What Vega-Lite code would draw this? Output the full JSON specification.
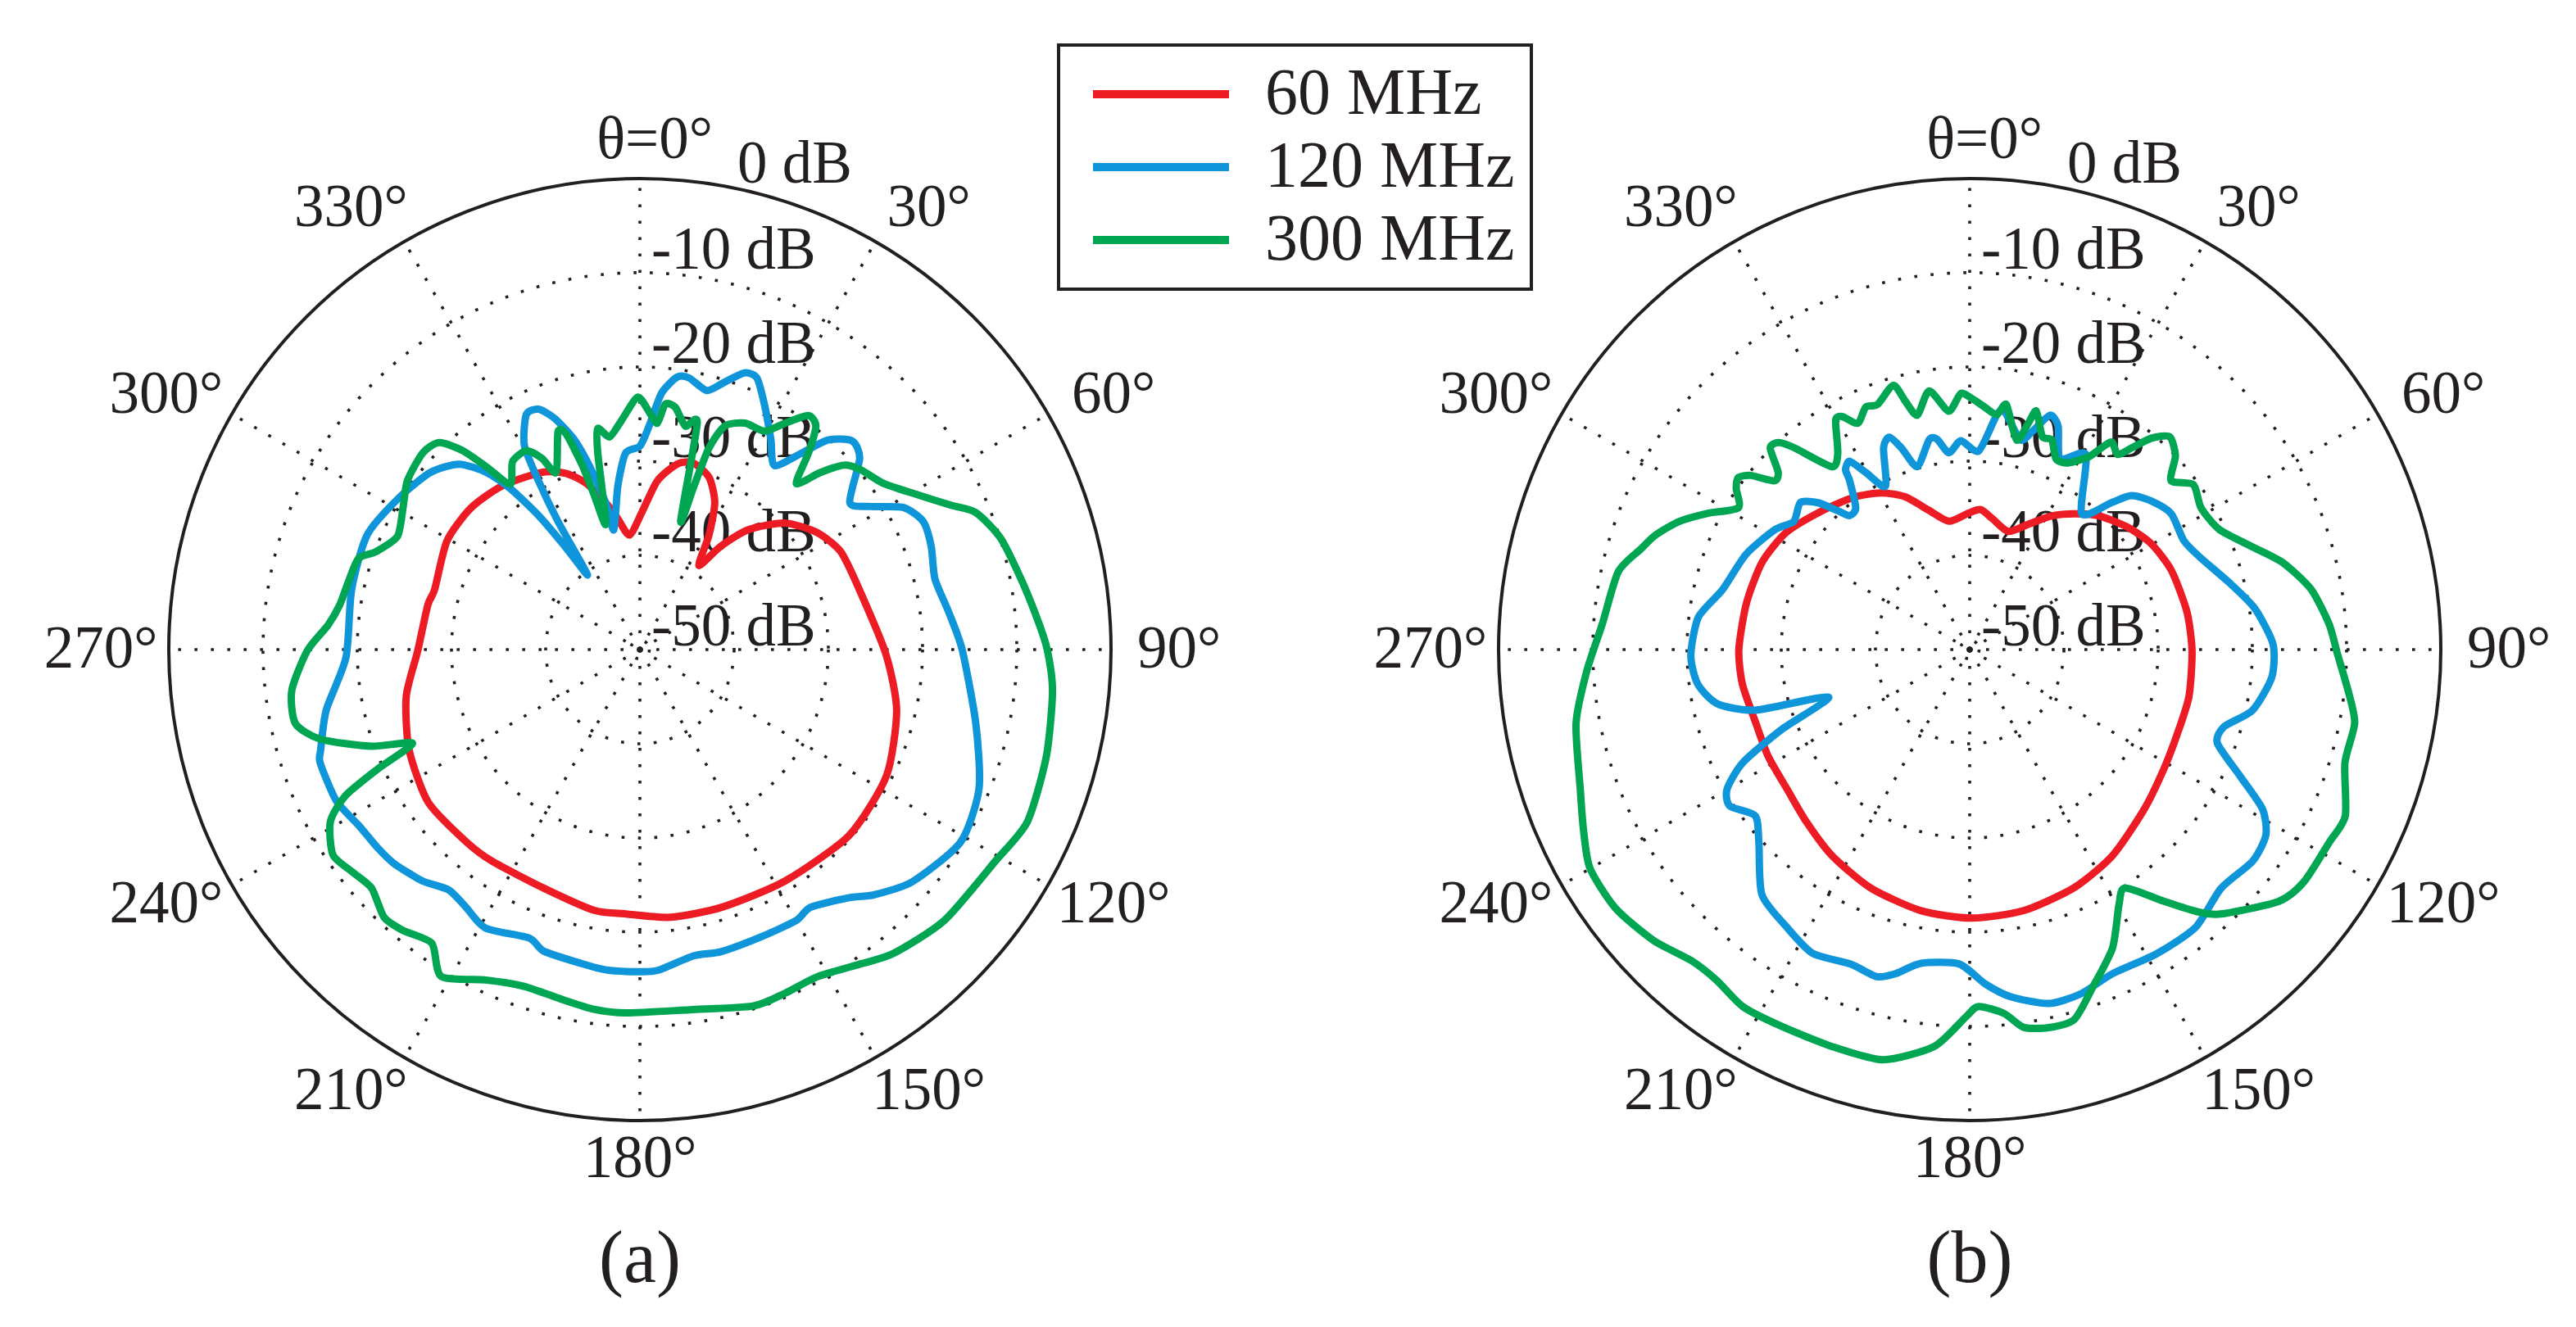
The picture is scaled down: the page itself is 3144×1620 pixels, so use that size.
{
  "$schema": "https://vega.github.io/schema/vega-lite/v6.json",
  "description": "Radiation patterns at 60, 120 and 300 MHz, panels (a) and (b)",
  "width": 3144,
  "height": 1620,
  "autosize": {"type": "none"},
  "padding": 0,
  "background": "white",
  "config": {
    "view": {"stroke": null},
    "font": "Liberation Serif",
    "legend": {
      "strokeColor": "#231F20",
      "strokeWidth": 4,
      "padding": 20,
      "symbolType": "M-0.9,0H7.4",
      "symbolSize": 1600,
      "symbolStrokeWidth": 10,
      "labelFont": "Liberation Serif",
      "labelFontSize": 80,
      "labelColor": "#231F20",
      "labelOffset": 152,
      "labelLimit": 0,
      "rowPadding": 9
    }
  },
  "datasets": {
    "rings": [
      {"panel": "a", "gain": 0}, {"panel": "a", "gain": -10}, {"panel": "a", "gain": -20},
      {"panel": "a", "gain": -30}, {"panel": "a", "gain": -40}, {"panel": "a", "gain": -49},
      {"panel": "a", "gain": -50},
      {"panel": "b", "gain": 0}, {"panel": "b", "gain": -10}, {"panel": "b", "gain": -20},
      {"panel": "b", "gain": -30}, {"panel": "b", "gain": -40}, {"panel": "b", "gain": -49},
      {"panel": "b", "gain": -50}
    ],
    "spokes": [
      {"panel": "a", "angle": 0, "label": "θ=0°"}, {"panel": "a", "angle": 30, "label": "30°"},
      {"panel": "a", "angle": 60, "label": "60°"}, {"panel": "a", "angle": 90, "label": "90°"},
      {"panel": "a", "angle": 120, "label": "120°"}, {"panel": "a", "angle": 150, "label": "150°"},
      {"panel": "a", "angle": 180, "label": "180°"}, {"panel": "a", "angle": 210, "label": "210°"},
      {"panel": "a", "angle": 240, "label": "240°"}, {"panel": "a", "angle": 270, "label": "270°"},
      {"panel": "a", "angle": 300, "label": "300°"}, {"panel": "a", "angle": 330, "label": "330°"},
      {"panel": "b", "angle": 0, "label": "θ=0°"}, {"panel": "b", "angle": 30, "label": "30°"},
      {"panel": "b", "angle": 60, "label": "60°"}, {"panel": "b", "angle": 90, "label": "90°"},
      {"panel": "b", "angle": 120, "label": "120°"}, {"panel": "b", "angle": 150, "label": "150°"},
      {"panel": "b", "angle": 180, "label": "180°"}, {"panel": "b", "angle": 210, "label": "210°"},
      {"panel": "b", "angle": 240, "label": "240°"}, {"panel": "b", "angle": 270, "label": "270°"},
      {"panel": "b", "angle": 300, "label": "300°"}, {"panel": "b", "angle": 330, "label": "330°"}
    ],
    "captions": [
      {"panel": "a", "caption": "(a)"},
      {"panel": "b", "caption": "(b)"}
    ],
    "patterns": [
      {"panel": "a", "freq": "60 MHz", "angle": 0.7, "gain": -35.5},
      {"panel": "a", "freq": "60 MHz", "angle": 5.9, "gain": -32},
      {"panel": "a", "freq": "60 MHz", "angle": 11.4, "gain": -29.9},
      {"panel": "a", "freq": "60 MHz", "angle": 15.9, "gain": -29.4},
      {"panel": "a", "freq": "60 MHz", "angle": 21.9, "gain": -30.3},
      {"panel": "a", "freq": "60 MHz", "angle": 27, "gain": -32.5},
      {"panel": "a", "freq": "60 MHz", "angle": 31.1, "gain": -35.8},
      {"panel": "a", "freq": "60 MHz", "angle": 35, "gain": -39.1},
      {"panel": "a", "freq": "60 MHz", "angle": 38, "gain": -36.1},
      {"panel": "a", "freq": "60 MHz", "angle": 42.2, "gain": -32.8},
      {"panel": "a", "freq": "60 MHz", "angle": 48.8, "gain": -29.6},
      {"panel": "a", "freq": "60 MHz", "angle": 56.4, "gain": -27.5},
      {"panel": "a", "freq": "60 MHz", "angle": 63.9, "gain": -26.3},
      {"panel": "a", "freq": "60 MHz", "angle": 74, "gain": -25.9},
      {"panel": "a", "freq": "60 MHz", "angle": 91, "gain": -23.9},
      {"panel": "a", "freq": "60 MHz", "angle": 103.3, "gain": -22},
      {"panel": "a", "freq": "60 MHz", "angle": 117.1, "gain": -20.6},
      {"panel": "a", "freq": "60 MHz", "angle": 131.6, "gain": -20.3},
      {"panel": "a", "freq": "60 MHz", "angle": 147.9, "gain": -21},
      {"panel": "a", "freq": "60 MHz", "angle": 162.4, "gain": -21.3},
      {"panel": "a", "freq": "60 MHz", "angle": 173.5, "gain": -21.4},
      {"panel": "a", "freq": "60 MHz", "angle": 183, "gain": -21.9},
      {"panel": "a", "freq": "60 MHz", "angle": 190, "gain": -21.9},
      {"panel": "a", "freq": "60 MHz", "angle": 202.1, "gain": -22.7},
      {"panel": "a", "freq": "60 MHz", "angle": 214.9, "gain": -22.6},
      {"panel": "a", "freq": "60 MHz", "angle": 222, "gain": -22.5},
      {"panel": "a", "freq": "60 MHz", "angle": 234.2, "gain": -22.3},
      {"panel": "a", "freq": "60 MHz", "angle": 246.6, "gain": -23.3},
      {"panel": "a", "freq": "60 MHz", "angle": 258.6, "gain": -24.7},
      {"panel": "a", "freq": "60 MHz", "angle": 269.5, "gain": -26.4},
      {"panel": "a", "freq": "60 MHz", "angle": 281.9, "gain": -27},
      {"panel": "a", "freq": "60 MHz", "angle": 286.3, "gain": -27.3},
      {"panel": "a", "freq": "60 MHz", "angle": 299.4, "gain": -26.5},
      {"panel": "a", "freq": "60 MHz", "angle": 310, "gain": -26.6},
      {"panel": "a", "freq": "60 MHz", "angle": 320, "gain": -27.3},
      {"panel": "a", "freq": "60 MHz", "angle": 331.1, "gain": -28.5},
      {"panel": "a", "freq": "60 MHz", "angle": 337.2, "gain": -29.7},
      {"panel": "a", "freq": "60 MHz", "angle": 342, "gain": -31.4},
      {"panel": "a", "freq": "60 MHz", "angle": 346.9, "gain": -34},
      {"panel": "a", "freq": "60 MHz", "angle": 350.4, "gain": -35.9},
      {"panel": "a", "freq": "60 MHz", "angle": 354.8, "gain": -37.8},

      {"panel": "a", "freq": "120 MHz", "angle": 0, "gain": -28.4},
      {"panel": "a", "freq": "120 MHz", "angle": 2.4, "gain": -26.2},
      {"panel": "a", "freq": "120 MHz", "angle": 4.8, "gain": -22.7},
      {"panel": "a", "freq": "120 MHz", "angle": 7.8, "gain": -20.8},
      {"panel": "a", "freq": "120 MHz", "angle": 10.3, "gain": -20.7},
      {"panel": "a", "freq": "120 MHz", "angle": 14.5, "gain": -21.6},
      {"panel": "a", "freq": "120 MHz", "angle": 17.6, "gain": -20.2},
      {"panel": "a", "freq": "120 MHz", "angle": 20.7, "gain": -18.6},
      {"panel": "a", "freq": "120 MHz", "angle": 23.3, "gain": -18.6},
      {"panel": "a", "freq": "120 MHz", "angle": 26.9, "gain": -20.8},
      {"panel": "a", "freq": "120 MHz", "angle": 31.9, "gain": -23.7},
      {"panel": "a", "freq": "120 MHz", "angle": 36.2, "gain": -25.8},
      {"panel": "a", "freq": "120 MHz", "angle": 39.7, "gain": -22.7},
      {"panel": "a", "freq": "120 MHz", "angle": 41.9, "gain": -20.1},
      {"panel": "a", "freq": "120 MHz", "angle": 45.5, "gain": -18.4},
      {"panel": "a", "freq": "120 MHz", "angle": 49, "gain": -19.1},
      {"panel": "a", "freq": "120 MHz", "angle": 55, "gain": -22.8},
      {"panel": "a", "freq": "120 MHz", "angle": 58.3, "gain": -21.1},
      {"panel": "a", "freq": "120 MHz", "angle": 61.7, "gain": -18.2},
      {"panel": "a", "freq": "120 MHz", "angle": 65.7, "gain": -17},
      {"panel": "a", "freq": "120 MHz", "angle": 70.5, "gain": -17.2},
      {"panel": "a", "freq": "120 MHz", "angle": 76.5, "gain": -17.8},
      {"panel": "a", "freq": "120 MHz", "angle": 83, "gain": -17},
      {"panel": "a", "freq": "120 MHz", "angle": 90, "gain": -15.8},
      {"panel": "a", "freq": "120 MHz", "angle": 102.4, "gain": -13.5},
      {"panel": "a", "freq": "120 MHz", "angle": 112.3, "gain": -11.1},
      {"panel": "a", "freq": "120 MHz", "angle": 121, "gain": -10.3},
      {"panel": "a", "freq": "120 MHz", "angle": 130.4, "gain": -12},
      {"panel": "a", "freq": "120 MHz", "angle": 136.3, "gain": -14},
      {"panel": "a", "freq": "120 MHz", "angle": 140, "gain": -15.6},
      {"panel": "a", "freq": "120 MHz", "angle": 146.5, "gain": -17.2},
      {"panel": "a", "freq": "120 MHz", "angle": 150, "gain": -16.8},
      {"panel": "a", "freq": "120 MHz", "angle": 157.4, "gain": -16.9},
      {"panel": "a", "freq": "120 MHz", "angle": 165, "gain": -16.8},
      {"panel": "a", "freq": "120 MHz", "angle": 170, "gain": -17},
      {"panel": "a", "freq": "120 MHz", "angle": 176.8, "gain": -15.9},
      {"panel": "a", "freq": "120 MHz", "angle": 180.2, "gain": -15.8},
      {"panel": "a", "freq": "120 MHz", "angle": 186, "gain": -15.8},
      {"panel": "a", "freq": "120 MHz", "angle": 190.6, "gain": -16.1},
      {"panel": "a", "freq": "120 MHz", "angle": 197.7, "gain": -16.4},
      {"panel": "a", "freq": "120 MHz", "angle": 201, "gain": -17.2},
      {"panel": "a", "freq": "120 MHz", "angle": 209, "gain": -16.2},
      {"panel": "a", "freq": "120 MHz", "angle": 214, "gain": -17},
      {"panel": "a", "freq": "120 MHz", "angle": 218.5, "gain": -17.4},
      {"panel": "a", "freq": "120 MHz", "angle": 223.2, "gain": -16.3},
      {"panel": "a", "freq": "120 MHz", "angle": 229, "gain": -15.4},
      {"panel": "a", "freq": "120 MHz", "angle": 233, "gain": -15.1},
      {"panel": "a", "freq": "120 MHz", "angle": 238, "gain": -14.8},
      {"panel": "a", "freq": "120 MHz", "angle": 243.5, "gain": -14},
      {"panel": "a", "freq": "120 MHz", "angle": 250.5, "gain": -14},
      {"panel": "a", "freq": "120 MHz", "angle": 252.6, "gain": -14.5},
      {"panel": "a", "freq": "120 MHz", "angle": 259.1, "gain": -16.1},
      {"panel": "a", "freq": "120 MHz", "angle": 268.5, "gain": -18.8},
      {"panel": "a", "freq": "120 MHz", "angle": 281.7, "gain": -18.75},
      {"panel": "a", "freq": "120 MHz", "angle": 292.8, "gain": -18.6},
      {"panel": "a", "freq": "120 MHz", "angle": 302.4, "gain": -19.8},
      {"panel": "a", "freq": "120 MHz", "angle": 310.3, "gain": -20.9},
      {"panel": "a", "freq": "120 MHz", "angle": 315.7, "gain": -22.5},
      {"panel": "a", "freq": "120 MHz", "angle": 319.1, "gain": -25.1},
      {"panel": "a", "freq": "120 MHz", "angle": 321.2, "gain": -28.1},
      {"panel": "a", "freq": "120 MHz", "angle": 323, "gain": -32.4},
      {"panel": "a", "freq": "120 MHz", "angle": 324, "gain": -36.5},
      {"panel": "a", "freq": "120 MHz", "angle": 325, "gain": -40.3},
      {"panel": "a", "freq": "120 MHz", "angle": 327.4, "gain": -33.9},
      {"panel": "a", "freq": "120 MHz", "angle": 329, "gain": -29.1},
      {"panel": "a", "freq": "120 MHz", "angle": 330.5, "gain": -25.1},
      {"panel": "a", "freq": "120 MHz", "angle": 334.2, "gain": -22.3},
      {"panel": "a", "freq": "120 MHz", "angle": 337.1, "gain": -22.3},
      {"panel": "a", "freq": "120 MHz", "angle": 339.7, "gain": -23.8},
      {"panel": "a", "freq": "120 MHz", "angle": 342.6, "gain": -26.6},
      {"panel": "a", "freq": "120 MHz", "angle": 344.7, "gain": -29.9},
      {"panel": "a", "freq": "120 MHz", "angle": 346.9, "gain": -34},
      {"panel": "a", "freq": "120 MHz", "angle": 347.7, "gain": -37},
      {"panel": "a", "freq": "120 MHz", "angle": 352.3, "gain": -32.5},
      {"panel": "a", "freq": "120 MHz", "angle": 355.8, "gain": -29.1},

      {"panel": "a", "freq": "300 MHz", "angle": 2.3, "gain": -24.8},
      {"panel": "a", "freq": "300 MHz", "angle": 4.4, "gain": -25.9},
      {"panel": "a", "freq": "300 MHz", "angle": 5.9, "gain": -23.8},
      {"panel": "a", "freq": "300 MHz", "angle": 8.3, "gain": -24},
      {"panel": "a", "freq": "300 MHz", "angle": 11.5, "gain": -25.8},
      {"panel": "a", "freq": "300 MHz", "angle": 14.2, "gain": -25.2},
      {"panel": "a", "freq": "300 MHz", "angle": 17.6, "gain": -35.7},
      {"panel": "a", "freq": "300 MHz", "angle": 18.3, "gain": -31.7},
      {"panel": "a", "freq": "300 MHz", "angle": 18.9, "gain": -27.4},
      {"panel": "a", "freq": "300 MHz", "angle": 20.8, "gain": -24.6},
      {"panel": "a", "freq": "300 MHz", "angle": 24.9, "gain": -23.5},
      {"panel": "a", "freq": "300 MHz", "angle": 29.7, "gain": -23.3},
      {"panel": "a", "freq": "300 MHz", "angle": 32.6, "gain": -21.5},
      {"panel": "a", "freq": "300 MHz", "angle": 35.7, "gain": -19.4},
      {"panel": "a", "freq": "300 MHz", "angle": 38.2, "gain": -19.8},
      {"panel": "a", "freq": "300 MHz", "angle": 40.6, "gain": -22.5},
      {"panel": "a", "freq": "300 MHz", "angle": 43.3, "gain": -25.8},
      {"panel": "a", "freq": "300 MHz", "angle": 45.5, "gain": -23.2},
      {"panel": "a", "freq": "300 MHz", "angle": 47.9, "gain": -20.8},
      {"panel": "a", "freq": "300 MHz", "angle": 50.7, "gain": -19.8},
      {"panel": "a", "freq": "300 MHz", "angle": 55.7, "gain": -18.7},
      {"panel": "a", "freq": "300 MHz", "angle": 60.6, "gain": -16.4},
      {"panel": "a", "freq": "300 MHz", "angle": 65.1, "gain": -13.6},
      {"panel": "a", "freq": "300 MHz", "angle": 67.8, "gain": -11.5},
      {"panel": "a", "freq": "300 MHz", "angle": 73, "gain": -9.9},
      {"panel": "a", "freq": "300 MHz", "angle": 81.5, "gain": -8.5},
      {"panel": "a", "freq": "300 MHz", "angle": 89.3, "gain": -6.9},
      {"panel": "a", "freq": "300 MHz", "angle": 95.6, "gain": -6},
      {"panel": "a", "freq": "300 MHz", "angle": 104.7, "gain": -5.4},
      {"panel": "a", "freq": "300 MHz", "angle": 114, "gain": -5},
      {"panel": "a", "freq": "300 MHz", "angle": 120.8, "gain": -6.1},
      {"panel": "a", "freq": "300 MHz", "angle": 131.7, "gain": -6.75},
      {"panel": "a", "freq": "300 MHz", "angle": 140.2, "gain": -8},
      {"panel": "a", "freq": "300 MHz", "angle": 144.8, "gain": -9.2},
      {"panel": "a", "freq": "300 MHz", "angle": 151.6, "gain": -10.5},
      {"panel": "a", "freq": "300 MHz", "angle": 157.1, "gain": -10.4},
      {"panel": "a", "freq": "300 MHz", "angle": 162.4, "gain": -10.3},
      {"panel": "a", "freq": "300 MHz", "angle": 172.1, "gain": -11.4},
      {"panel": "a", "freq": "300 MHz", "angle": 182.2, "gain": -11.4},
      {"panel": "a", "freq": "300 MHz", "angle": 187.3, "gain": -11.5},
      {"panel": "a", "freq": "300 MHz", "angle": 192.5, "gain": -11.95},
      {"panel": "a", "freq": "300 MHz", "angle": 199, "gain": -12.2},
      {"panel": "a", "freq": "300 MHz", "angle": 205, "gain": -11.3},
      {"panel": "a", "freq": "300 MHz", "angle": 211.3, "gain": -9.4},
      {"panel": "a", "freq": "300 MHz", "angle": 215.3, "gain": -11.8},
      {"panel": "a", "freq": "300 MHz", "angle": 220.1, "gain": -11},
      {"panel": "a", "freq": "300 MHz", "angle": 223.7, "gain": -10.7},
      {"panel": "a", "freq": "300 MHz", "angle": 228.4, "gain": -11.9},
      {"panel": "a", "freq": "300 MHz", "angle": 232.4, "gain": -11.4},
      {"panel": "a", "freq": "300 MHz", "angle": 236.2, "gain": -10.8},
      {"panel": "a", "freq": "300 MHz", "angle": 240.9, "gain": -12.4},
      {"panel": "a", "freq": "300 MHz", "angle": 243.6, "gain": -15.1},
      {"panel": "a", "freq": "300 MHz", "angle": 245.5, "gain": -19.4},
      {"panel": "a", "freq": "300 MHz", "angle": 247.6, "gain": -23.9},
      {"panel": "a", "freq": "300 MHz", "angle": 250.2, "gain": -19.7},
      {"panel": "a", "freq": "300 MHz", "angle": 254.3, "gain": -14.8},
      {"panel": "a", "freq": "300 MHz", "angle": 257.9, "gain": -12.6},
      {"panel": "a", "freq": "300 MHz", "angle": 263.3, "gain": -12.8},
      {"panel": "a", "freq": "300 MHz", "angle": 269.8, "gain": -14.7},
      {"panel": "a", "freq": "300 MHz", "angle": 274.5, "gain": -16.8},
      {"panel": "a", "freq": "300 MHz", "angle": 278.5, "gain": -17.8},
      {"panel": "a", "freq": "300 MHz", "angle": 282.6, "gain": -18.2},
      {"panel": "a", "freq": "300 MHz", "angle": 287.9, "gain": -18.6},
      {"panel": "a", "freq": "300 MHz", "angle": 290.3, "gain": -20.1},
      {"panel": "a", "freq": "300 MHz", "angle": 295, "gain": -21.6},
      {"panel": "a", "freq": "300 MHz", "angle": 300.9, "gain": -20.7},
      {"panel": "a", "freq": "300 MHz", "angle": 306, "gain": -19.5},
      {"panel": "a", "freq": "300 MHz", "angle": 312.2, "gain": -18.9},
      {"panel": "a", "freq": "300 MHz", "angle": 315.9, "gain": -19.4},
      {"panel": "a", "freq": "300 MHz", "angle": 318.3, "gain": -21.7},
      {"panel": "a", "freq": "300 MHz", "angle": 320, "gain": -24.7},
      {"panel": "a", "freq": "300 MHz", "angle": 321.9, "gain": -27.7},
      {"panel": "a", "freq": "300 MHz", "angle": 325.9, "gain": -25.9},
      {"panel": "a", "freq": "300 MHz", "angle": 330.3, "gain": -25.7},
      {"panel": "a", "freq": "300 MHz", "angle": 332.9, "gain": -27.2},
      {"panel": "a", "freq": "300 MHz", "angle": 334.7, "gain": -29.2},
      {"panel": "a", "freq": "300 MHz", "angle": 339.4, "gain": -25.3},
      {"panel": "a", "freq": "300 MHz", "angle": 341.1, "gain": -25.8},
      {"panel": "a", "freq": "300 MHz", "angle": 342.6, "gain": -29.4},
      {"panel": "a", "freq": "300 MHz", "angle": 343.5, "gain": -32.8},
      {"panel": "a", "freq": "300 MHz", "angle": 344.8, "gain": -36.2},
      {"panel": "a", "freq": "300 MHz", "angle": 347.9, "gain": -28.7},
      {"panel": "a", "freq": "300 MHz", "angle": 349.2, "gain": -26.1},
      {"panel": "a", "freq": "300 MHz", "angle": 351.9, "gain": -27.2},
      {"panel": "a", "freq": "300 MHz", "angle": 355.4, "gain": -25.6},
      {"panel": "a", "freq": "300 MHz", "angle": 359.5, "gain": -23.2},

      {"panel": "b", "freq": "60 MHz", "angle": 4.5, "gain": -35.1},
      {"panel": "b", "freq": "60 MHz", "angle": 9.9, "gain": -35.9},
      {"panel": "b", "freq": "60 MHz", "angle": 18.1, "gain": -36.8},
      {"panel": "b", "freq": "60 MHz", "angle": 25.1, "gain": -35.3},
      {"panel": "b", "freq": "60 MHz", "angle": 31.7, "gain": -33.3},
      {"panel": "b", "freq": "60 MHz", "angle": 38, "gain": -31.7},
      {"panel": "b", "freq": "60 MHz", "angle": 44.3, "gain": -30.2},
      {"panel": "b", "freq": "60 MHz", "angle": 52.2, "gain": -28.8},
      {"panel": "b", "freq": "60 MHz", "angle": 59.7, "gain": -27.7},
      {"panel": "b", "freq": "60 MHz", "angle": 68.6, "gain": -27},
      {"panel": "b", "freq": "60 MHz", "angle": 80.1, "gain": -26.6},
      {"panel": "b", "freq": "60 MHz", "angle": 90.3, "gain": -26.4},
      {"panel": "b", "freq": "60 MHz", "angle": 102.2, "gain": -26.2},
      {"panel": "b", "freq": "60 MHz", "angle": 112.8, "gain": -26.2},
      {"panel": "b", "freq": "60 MHz", "angle": 121.7, "gain": -25.8},
      {"panel": "b", "freq": "60 MHz", "angle": 132.4, "gain": -24.9},
      {"panel": "b", "freq": "60 MHz", "angle": 145.2, "gain": -23.4},
      {"panel": "b", "freq": "60 MHz", "angle": 156.3, "gain": -22.4},
      {"panel": "b", "freq": "60 MHz", "angle": 168.4, "gain": -21.7},
      {"panel": "b", "freq": "60 MHz", "angle": 179.5, "gain": -21.5},
      {"panel": "b", "freq": "60 MHz", "angle": 190.5, "gain": -21.8},
      {"panel": "b", "freq": "60 MHz", "angle": 202.6, "gain": -22.6},
      {"panel": "b", "freq": "60 MHz", "angle": 213.8, "gain": -23.7},
      {"panel": "b", "freq": "60 MHz", "angle": 223.4, "gain": -24.8},
      {"panel": "b", "freq": "60 MHz", "angle": 232.5, "gain": -25.6},
      {"panel": "b", "freq": "60 MHz", "angle": 242.1, "gain": -25.8},
      {"panel": "b", "freq": "60 MHz", "angle": 251, "gain": -26},
      {"panel": "b", "freq": "60 MHz", "angle": 261.4, "gain": -25.6},
      {"panel": "b", "freq": "60 MHz", "angle": 270, "gain": -25.5},
      {"panel": "b", "freq": "60 MHz", "angle": 281.7, "gain": -25.8},
      {"panel": "b", "freq": "60 MHz", "angle": 292.8, "gain": -26.1},
      {"panel": "b", "freq": "60 MHz", "angle": 302.6, "gain": -26.9},
      {"panel": "b", "freq": "60 MHz", "angle": 313.3, "gain": -28.5},
      {"panel": "b", "freq": "60 MHz", "angle": 322.8, "gain": -29.7},
      {"panel": "b", "freq": "60 MHz", "angle": 330.6, "gain": -30.9},
      {"panel": "b", "freq": "60 MHz", "angle": 337.1, "gain": -32.4},
      {"panel": "b", "freq": "60 MHz", "angle": 343.7, "gain": -34.6},
      {"panel": "b", "freq": "60 MHz", "angle": 350.8, "gain": -36.2},
      {"panel": "b", "freq": "60 MHz", "angle": 359.6, "gain": -35.5},

      {"panel": "b", "freq": "120 MHz", "angle": 2.6, "gain": -28.9},
      {"panel": "b", "freq": "120 MHz", "angle": 6.6, "gain": -24.9},
      {"panel": "b", "freq": "120 MHz", "angle": 8.4, "gain": -24.5},
      {"panel": "b", "freq": "120 MHz", "angle": 13.6, "gain": -27.1},
      {"panel": "b", "freq": "120 MHz", "angle": 16, "gain": -25.9},
      {"panel": "b", "freq": "120 MHz", "angle": 18.9, "gain": -23.7},
      {"panel": "b", "freq": "120 MHz", "angle": 21.6, "gain": -24.5},
      {"panel": "b", "freq": "120 MHz", "angle": 25.4, "gain": -27.6},
      {"panel": "b", "freq": "120 MHz", "angle": 30.8, "gain": -25.9},
      {"panel": "b", "freq": "120 MHz", "angle": 39.5, "gain": -31.3},
      {"panel": "b", "freq": "120 MHz", "angle": 44, "gain": -28.3},
      {"panel": "b", "freq": "120 MHz", "angle": 46.4, "gain": -26.3},
      {"panel": "b", "freq": "120 MHz", "angle": 50.7, "gain": -25.1},
      {"panel": "b", "freq": "120 MHz", "angle": 56, "gain": -24.2},
      {"panel": "b", "freq": "120 MHz", "angle": 63, "gain": -24.5},
      {"panel": "b", "freq": "120 MHz", "angle": 68, "gain": -23.7},
      {"panel": "b", "freq": "120 MHz", "angle": 76, "gain": -21.4},
      {"panel": "b", "freq": "120 MHz", "angle": 81.9, "gain": -19.4},
      {"panel": "b", "freq": "120 MHz", "angle": 89, "gain": -17.8},
      {"panel": "b", "freq": "120 MHz", "angle": 95.2, "gain": -17.8},
      {"panel": "b", "freq": "120 MHz", "angle": 102.1, "gain": -19.3},
      {"panel": "b", "freq": "120 MHz", "angle": 106.9, "gain": -21.8},
      {"panel": "b", "freq": "120 MHz", "angle": 110.7, "gain": -21.9},
      {"panel": "b", "freq": "120 MHz", "angle": 115.1, "gain": -18.3},
      {"panel": "b", "freq": "120 MHz", "angle": 118.6, "gain": -14.6},
      {"panel": "b", "freq": "120 MHz", "angle": 122.1, "gain": -12.9},
      {"panel": "b", "freq": "120 MHz", "angle": 126.8, "gain": -12.5},
      {"panel": "b", "freq": "120 MHz", "angle": 133.5, "gain": -13.2},
      {"panel": "b", "freq": "120 MHz", "angle": 140.9, "gain": -12},
      {"panel": "b", "freq": "120 MHz", "angle": 148.4, "gain": -12.1},
      {"panel": "b", "freq": "120 MHz", "angle": 156.2, "gain": -12.4},
      {"panel": "b", "freq": "120 MHz", "angle": 162.1, "gain": -11.6},
      {"panel": "b", "freq": "120 MHz", "angle": 167.4, "gain": -11.5},
      {"panel": "b", "freq": "120 MHz", "angle": 173.3, "gain": -12.9},
      {"panel": "b", "freq": "120 MHz", "angle": 177.4, "gain": -14.5},
      {"panel": "b", "freq": "120 MHz", "angle": 181.9, "gain": -16.6},
      {"panel": "b", "freq": "120 MHz", "angle": 188.8, "gain": -16.3},
      {"panel": "b", "freq": "120 MHz", "angle": 192.9, "gain": -14.7},
      {"panel": "b", "freq": "120 MHz", "angle": 195.9, "gain": -13.9},
      {"panel": "b", "freq": "120 MHz", "angle": 200.7, "gain": -14.3},
      {"panel": "b", "freq": "120 MHz", "angle": 207.3, "gain": -13.7},
      {"panel": "b", "freq": "120 MHz", "angle": 213.3, "gain": -14.7},
      {"panel": "b", "freq": "120 MHz", "angle": 220.3, "gain": -15.9},
      {"panel": "b", "freq": "120 MHz", "angle": 227.6, "gain": -19.7},
      {"panel": "b", "freq": "120 MHz", "angle": 232.2, "gain": -21.2},
      {"panel": "b", "freq": "120 MHz", "angle": 236.9, "gain": -19.6},
      {"panel": "b", "freq": "120 MHz", "angle": 240.1, "gain": -20.3},
      {"panel": "b", "freq": "120 MHz", "angle": 243.5, "gain": -23.1},
      {"panel": "b", "freq": "120 MHz", "angle": 246.9, "gain": -28.2},
      {"panel": "b", "freq": "120 MHz", "angle": 251.4, "gain": -34.2},
      {"panel": "b", "freq": "120 MHz", "angle": 254.2, "gain": -26.4},
      {"panel": "b", "freq": "120 MHz", "angle": 257.9, "gain": -22.6},
      {"panel": "b", "freq": "120 MHz", "angle": 262.8, "gain": -20.9},
      {"panel": "b", "freq": "120 MHz", "angle": 268.8, "gain": -20.4},
      {"panel": "b", "freq": "120 MHz", "angle": 276.8, "gain": -21},
      {"panel": "b", "freq": "120 MHz", "angle": 283.6, "gain": -23},
      {"panel": "b", "freq": "120 MHz", "angle": 293.1, "gain": -24.2},
      {"panel": "b", "freq": "120 MHz", "angle": 301.5, "gain": -25.7},
      {"panel": "b", "freq": "120 MHz", "angle": 306.1, "gain": -26.9},
      {"panel": "b", "freq": "120 MHz", "angle": 311, "gain": -26.2},
      {"panel": "b", "freq": "120 MHz", "angle": 314.1, "gain": -27.6},
      {"panel": "b", "freq": "120 MHz", "angle": 316.5, "gain": -29.7},
      {"panel": "b", "freq": "120 MHz", "angle": 318.1, "gain": -30.9},
      {"panel": "b", "freq": "120 MHz", "angle": 321.2, "gain": -30.7},
      {"panel": "b", "freq": "120 MHz", "angle": 324.6, "gain": -28},
      {"panel": "b", "freq": "120 MHz", "angle": 325.4, "gain": -26.8},
      {"panel": "b", "freq": "120 MHz", "angle": 327.5, "gain": -26.3},
      {"panel": "b", "freq": "120 MHz", "angle": 329.6, "gain": -28.2},
      {"panel": "b", "freq": "120 MHz", "angle": 332.7, "gain": -30.5},
      {"panel": "b", "freq": "120 MHz", "angle": 336.9, "gain": -26.7},
      {"panel": "b", "freq": "120 MHz", "angle": 339.3, "gain": -25.9},
      {"panel": "b", "freq": "120 MHz", "angle": 341.3, "gain": -27.4},
      {"panel": "b", "freq": "120 MHz", "angle": 344, "gain": -29.8},
      {"panel": "b", "freq": "120 MHz", "angle": 349.1, "gain": -27.3},
      {"panel": "b", "freq": "120 MHz", "angle": 351.2, "gain": -27.4},
      {"panel": "b", "freq": "120 MHz", "angle": 354, "gain": -29},
      {"panel": "b", "freq": "120 MHz", "angle": 357.6, "gain": -27.8},

      {"panel": "b", "freq": "300 MHz", "angle": 0.7, "gain": -23.4},
      {"panel": "b", "freq": "300 MHz", "angle": 3.5, "gain": -24.2},
      {"panel": "b", "freq": "300 MHz", "angle": 6.6, "gain": -24.9},
      {"panel": "b", "freq": "300 MHz", "angle": 8.5, "gain": -23.7},
      {"panel": "b", "freq": "300 MHz", "angle": 12.6, "gain": -27.2},
      {"panel": "b", "freq": "300 MHz", "angle": 14.5, "gain": -25.2},
      {"panel": "b", "freq": "300 MHz", "angle": 15.6, "gain": -23.7},
      {"panel": "b", "freq": "300 MHz", "angle": 18.8, "gain": -26.1},
      {"panel": "b", "freq": "300 MHz", "angle": 21.4, "gain": -26.1},
      {"panel": "b", "freq": "300 MHz", "angle": 24.4, "gain": -27.8},
      {"panel": "b", "freq": "300 MHz", "angle": 27.8, "gain": -27.6},
      {"panel": "b", "freq": "300 MHz", "angle": 31.6, "gain": -26},
      {"panel": "b", "freq": "300 MHz", "angle": 33, "gain": -24.6},
      {"panel": "b", "freq": "300 MHz", "angle": 34.4, "gain": -23.3},
      {"panel": "b", "freq": "300 MHz", "angle": 37.2, "gain": -24},
      {"panel": "b", "freq": "300 MHz", "angle": 38.8, "gain": -22.5},
      {"panel": "b", "freq": "300 MHz", "angle": 40.7, "gain": -20.4},
      {"panel": "b", "freq": "300 MHz", "angle": 43.2, "gain": -19},
      {"panel": "b", "freq": "300 MHz", "angle": 46.7, "gain": -20},
      {"panel": "b", "freq": "300 MHz", "angle": 50, "gain": -22.1},
      {"panel": "b", "freq": "300 MHz", "angle": 53.6, "gain": -20.5},
      {"panel": "b", "freq": "300 MHz", "angle": 58.5, "gain": -21.2},
      {"panel": "b", "freq": "300 MHz", "angle": 64.3, "gain": -20.6},
      {"panel": "b", "freq": "300 MHz", "angle": 69.8, "gain": -18.2},
      {"panel": "b", "freq": "300 MHz", "angle": 74.5, "gain": -15.5},
      {"panel": "b", "freq": "300 MHz", "angle": 80, "gain": -13.2},
      {"panel": "b", "freq": "300 MHz", "angle": 86, "gain": -11.75},
      {"panel": "b", "freq": "300 MHz", "angle": 90.5, "gain": -11},
      {"panel": "b", "freq": "300 MHz", "angle": 96.2, "gain": -9.6},
      {"panel": "b", "freq": "300 MHz", "angle": 100.8, "gain": -8.4},
      {"panel": "b", "freq": "300 MHz", "angle": 106.8, "gain": -8.4},
      {"panel": "b", "freq": "300 MHz", "angle": 113.9, "gain": -6.4},
      {"panel": "b", "freq": "300 MHz", "angle": 118.2, "gain": -6.7},
      {"panel": "b", "freq": "300 MHz", "angle": 124.8, "gain": -6.8},
      {"panel": "b", "freq": "300 MHz", "angle": 129.2, "gain": -7.7},
      {"panel": "b", "freq": "300 MHz", "angle": 136.5, "gain": -11.3},
      {"panel": "b", "freq": "300 MHz", "angle": 139.2, "gain": -13.3},
      {"panel": "b", "freq": "300 MHz", "angle": 142.4, "gain": -16.3},
      {"panel": "b", "freq": "300 MHz", "angle": 146.9, "gain": -19.8},
      {"panel": "b", "freq": "300 MHz", "angle": 149.7, "gain": -18.6},
      {"panel": "b", "freq": "300 MHz", "angle": 154.4, "gain": -14.9},
      {"panel": "b", "freq": "300 MHz", "angle": 159.9, "gain": -11.9},
      {"panel": "b", "freq": "300 MHz", "angle": 164.2, "gain": -9.2},
      {"panel": "b", "freq": "300 MHz", "angle": 168.2, "gain": -9},
      {"panel": "b", "freq": "300 MHz", "angle": 171.9, "gain": -9.5},
      {"panel": "b", "freq": "300 MHz", "angle": 174.6, "gain": -11.2},
      {"panel": "b", "freq": "300 MHz", "angle": 178.6, "gain": -12.1},
      {"panel": "b", "freq": "300 MHz", "angle": 180.6, "gain": -11},
      {"panel": "b", "freq": "300 MHz", "angle": 185.1, "gain": -7.7},
      {"panel": "b", "freq": "300 MHz", "angle": 191.9, "gain": -5.5},
      {"panel": "b", "freq": "300 MHz", "angle": 199.1, "gain": -5.4},
      {"panel": "b", "freq": "300 MHz", "angle": 206.6, "gain": -5.3},
      {"panel": "b", "freq": "300 MHz", "angle": 212.4, "gain": -5.1},
      {"panel": "b", "freq": "300 MHz", "angle": 217.4, "gain": -5.8},
      {"panel": "b", "freq": "300 MHz", "angle": 221.8, "gain": -5.7},
      {"panel": "b", "freq": "300 MHz", "angle": 227.4, "gain": -4.4},
      {"panel": "b", "freq": "300 MHz", "angle": 233.9, "gain": -3.45},
      {"panel": "b", "freq": "300 MHz", "angle": 240.1, "gain": -3.5},
      {"panel": "b", "freq": "300 MHz", "angle": 245.1, "gain": -4.8},
      {"panel": "b", "freq": "300 MHz", "angle": 250.3, "gain": -6.1},
      {"panel": "b", "freq": "300 MHz", "angle": 259.4, "gain": -7.5},
      {"panel": "b", "freq": "300 MHz", "angle": 266.8, "gain": -9.3},
      {"panel": "b", "freq": "300 MHz", "angle": 273.9, "gain": -10.9},
      {"panel": "b", "freq": "300 MHz", "angle": 282.5, "gain": -11.8},
      {"panel": "b", "freq": "300 MHz", "angle": 287, "gain": -13.5},
      {"panel": "b", "freq": "300 MHz", "angle": 290, "gain": -14.5},
      {"panel": "b", "freq": "300 MHz", "angle": 293.8, "gain": -16.3},
      {"panel": "b", "freq": "300 MHz", "angle": 297.4, "gain": -18.6},
      {"panel": "b", "freq": "300 MHz", "angle": 301.5, "gain": -21.2},
      {"panel": "b", "freq": "300 MHz", "angle": 304.6, "gain": -19.9},
      {"panel": "b", "freq": "300 MHz", "angle": 306.6, "gain": -19.4},
      {"panel": "b", "freq": "300 MHz", "angle": 308.5, "gain": -20.3},
      {"panel": "b", "freq": "300 MHz", "angle": 310.8, "gain": -22.6},
      {"panel": "b", "freq": "300 MHz", "angle": 312.8, "gain": -22.3},
      {"panel": "b", "freq": "300 MHz", "angle": 315.3, "gain": -19.9},
      {"panel": "b", "freq": "300 MHz", "angle": 317.3, "gain": -20.1},
      {"panel": "b", "freq": "300 MHz", "angle": 319, "gain": -21.6},
      {"panel": "b", "freq": "300 MHz", "angle": 323, "gain": -25.7},
      {"panel": "b", "freq": "300 MHz", "angle": 326.1, "gain": -24.9},
      {"panel": "b", "freq": "300 MHz", "angle": 329.7, "gain": -21.8},
      {"panel": "b", "freq": "300 MHz", "angle": 331.3, "gain": -21.8},
      {"panel": "b", "freq": "300 MHz", "angle": 333.7, "gain": -23.2},
      {"panel": "b", "freq": "300 MHz", "angle": 336.8, "gain": -22},
      {"panel": "b", "freq": "300 MHz", "angle": 339.4, "gain": -22.2},
      {"panel": "b", "freq": "300 MHz", "angle": 343.9, "gain": -20.8},
      {"panel": "b", "freq": "300 MHz", "angle": 345.5, "gain": -22.8},
      {"panel": "b", "freq": "300 MHz", "angle": 347.4, "gain": -24.5},
      {"panel": "b", "freq": "300 MHz", "angle": 351.1, "gain": -22.2},
      {"panel": "b", "freq": "300 MHz", "angle": 355, "gain": -24.6},
      {"panel": "b", "freq": "300 MHz", "angle": 358, "gain": -22.8}
    ]
  },
  "layer": [
    {
      "data": {"name": "rings"},
      "transform": [
        {"filter": "datum.gain < 0 && datum.gain > -50"},
        {"calculate": "datum.panel === 'b' ? 141.13 : 0", "as": "cx"},
        {"calculate": "0", "as": "cy"},
        {"calculate": "datum.gain + 50", "as": "r"}
      ],
      "mark": {"type": "point", "shape": "circle", "filled": false, "color": "#231F20", "stroke": "#231F20", "strokeWidth": 3.6, "strokeDash": [3.6, 16.4], "opacity": 1},
      "encoding": {
        "x": {"field": "cx", "type": "quantitative", "scale": {"domain": [-67.913, 205.478], "nice": false, "zero": false}, "axis": null},
        "y": {"field": "cy", "type": "quantitative", "scale": {"domain": [-71.913, 68.957], "nice": false, "zero": false}, "axis": null},
        "size": {"field": "r", "type": "quantitative", "scale": {"type": "pow", "exponent": 2, "domain": [0, 50], "range": [0, 1322500]}, "legend": null}
      }
    },
    {
      "data": {"name": "spokes"},
      "transform": [
        {"calculate": "datum.panel === 'b' ? 141.13 : 0", "as": "cx"},
        {"calculate": "0", "as": "cy"},
        {"calculate": "datum.cx + 50 * sin(datum.angle * PI / 180)", "as": "ex"},
        {"calculate": "50 * cos(datum.angle * PI / 180)", "as": "ey"}
      ],
      "mark": {"type": "rule", "color": "#231F20", "strokeWidth": 3.6, "strokeDash": [3.6, 16.4]},
      "encoding": {
        "x": {"field": "cx", "type": "quantitative", "scale": {"domain": [-67.913, 205.478], "nice": false, "zero": false}, "axis": null},
        "y": {"field": "cy", "type": "quantitative", "scale": {"domain": [-71.913, 68.957], "nice": false, "zero": false}, "axis": null},
        "x2": {"field": "ex"},
        "y2": {"field": "ey"}
      }
    },
    {
      "data": {"name": "rings"},
      "transform": [
        {"filter": "datum.gain === 0"},
        {"calculate": "datum.panel === 'b' ? 141.13 : 0", "as": "cx"},
        {"calculate": "0", "as": "cy"},
        {"calculate": "datum.gain + 50", "as": "r"}
      ],
      "mark": {"type": "point", "shape": "circle", "filled": false, "color": "#231F20", "stroke": "#231F20", "strokeWidth": 4, "opacity": 1},
      "encoding": {
        "x": {"field": "cx", "type": "quantitative", "scale": {"domain": [-67.913, 205.478], "nice": false, "zero": false}, "axis": null},
        "y": {"field": "cy", "type": "quantitative", "scale": {"domain": [-71.913, 68.957], "nice": false, "zero": false}, "axis": null},
        "size": {"field": "r", "type": "quantitative", "scale": {"type": "pow", "exponent": 2, "domain": [0, 50], "range": [0, 1322500]}, "legend": null}
      }
    },
    {
      "data": {"name": "rings"},
      "transform": [
        {"filter": "datum.gain < 0 && datum.gain % 10 === 0"},
        {"calculate": "datum.panel === 'b' ? 141.13 : 0", "as": "cx"},
        {"calculate": "datum.gain + 50", "as": "r"},
        {"calculate": "datum.gain + ' dB'", "as": "label"}
      ],
      "mark": {"type": "text", "font": "Liberation Serif", "fontSize": 73, "color": "#231F20", "align": "left", "baseline": "alphabetic", "dx": 14, "dy": -5},
      "encoding": {
        "x": {"field": "cx", "type": "quantitative", "scale": {"domain": [-67.913, 205.478], "nice": false, "zero": false}, "axis": null},
        "y": {"field": "r", "type": "quantitative", "scale": {"domain": [-71.913, 68.957], "nice": false, "zero": false}, "axis": null},
        "text": {"field": "label", "type": "nominal"}
      }
    },
    {
      "data": {"name": "rings"},
      "transform": [
        {"filter": "datum.gain === 0"},
        {"calculate": "datum.panel === 'b' ? 141.13 : 0", "as": "cx"},
        {"calculate": "datum.gain + 50", "as": "r"},
        {"calculate": "datum.gain + ' dB'", "as": "label"}
      ],
      "mark": {"type": "text", "font": "Liberation Serif", "fontSize": 73, "color": "#231F20", "align": "left", "baseline": "alphabetic", "dx": 119, "dy": 5},
      "encoding": {
        "x": {"field": "cx", "type": "quantitative", "scale": {"domain": [-67.913, 205.478], "nice": false, "zero": false}, "axis": null},
        "y": {"field": "r", "type": "quantitative", "scale": {"domain": [-71.913, 68.957], "nice": false, "zero": false}, "axis": null},
        "text": {"field": "label", "type": "nominal"}
      }
    },
    {
      "data": {"name": "spokes"},
      "transform": [
        {"calculate": "sin(datum.angle * PI / 180)", "as": "s"},
        {"calculate": "(datum.panel === 'b' ? 141.13 : 0) + (datum.s < 0 ? -1 : 1) * 57.22 * pow(abs(datum.s), 0.9) + (datum.angle === 0 ? 1.57 : 0)", "as": "lx"},
        {"calculate": "54.09 * cos(datum.angle * PI / 180)", "as": "ly"}
      ],
      "mark": {"type": "text", "font": "Liberation Serif", "fontSize": 73, "color": "#231F20", "align": "center", "baseline": "middle"},
      "encoding": {
        "x": {"field": "lx", "type": "quantitative", "scale": {"domain": [-67.913, 205.478], "nice": false, "zero": false}, "axis": null},
        "y": {"field": "ly", "type": "quantitative", "scale": {"domain": [-71.913, 68.957], "nice": false, "zero": false}, "axis": null},
        "text": {"field": "label", "type": "nominal"}
      }
    },
    {
      "data": {"name": "captions"},
      "transform": [
        {"calculate": "datum.panel === 'b' ? 141.13 : 0", "as": "cx"},
        {"calculate": "-67.1", "as": "cy"}
      ],
      "mark": {"type": "text", "font": "Liberation Serif", "fontSize": 90, "color": "#231F20", "align": "center", "baseline": "alphabetic"},
      "encoding": {
        "x": {"field": "cx", "type": "quantitative", "scale": {"domain": [-67.913, 205.478], "nice": false, "zero": false}, "axis": null},
        "y": {"field": "cy", "type": "quantitative", "scale": {"domain": [-71.913, 68.957], "nice": false, "zero": false}, "axis": null},
        "text": {"field": "caption", "type": "nominal"}
      }
    },
    {
      "data": {"name": "patterns"},
      "transform": [
        {"calculate": "(datum.panel === 'b' ? 141.13 : 0) + (datum.gain + 50) * sin(datum.angle * PI / 180)", "as": "x"},
        {"calculate": "(datum.gain + 50) * cos(datum.angle * PI / 180)", "as": "y"}
      ],
      "mark": {"type": "line", "interpolate": "cardinal-closed", "tension": 0.3, "strokeWidth": 9, "strokeJoin": "round", "strokeCap": "round"},
      "encoding": {
        "x": {"field": "x", "type": "quantitative", "scale": {"domain": [-67.913, 205.478], "nice": false, "zero": false}, "axis": null},
        "y": {"field": "y", "type": "quantitative", "scale": {"domain": [-71.913, 68.957], "nice": false, "zero": false}, "axis": null},
        "color": {
          "field": "freq",
          "type": "nominal",
          "scale": {"domain": ["60 MHz", "120 MHz", "300 MHz"], "range": ["#ED1C24", "#0E95DA", "#00A651"]},
          "legend": {"title": null, "orient": "none", "legendX": 1292, "legendY": 55}
        },
        "detail": {"field": "panel", "type": "nominal"},
        "order": {"field": "angle", "type": "quantitative"}
      }
    }
  ]
}
